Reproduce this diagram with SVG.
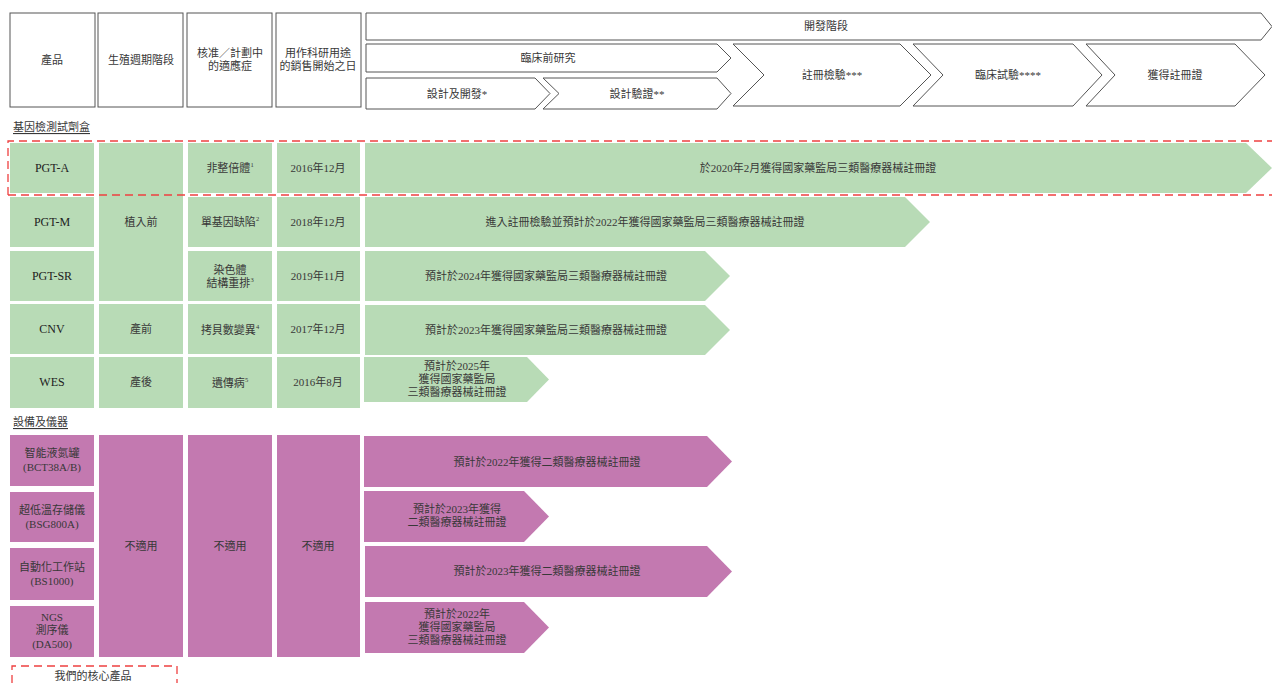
<svg xmlns="http://www.w3.org/2000/svg" width="1272" height="683" viewBox="0 0 1272 683">
<style>
text{font-family:"Liberation Serif","Noto Sans CJK TC",serif;font-size:11px;fill:#383838;text-anchor:middle;dominant-baseline:central}
.lat{font-size:12px;fill:#222}
.hdr{fill:#fff;stroke:#555;stroke-width:1}
.g{fill:#b8dbb6}
.p{fill:#c379b0}
.sec{text-anchor:start;text-decoration:underline}
.dash{fill:none;stroke:#ee4040;stroke-width:1.3;stroke-dasharray:8,5}
.sup{font-size:6.5px}
</style>
<rect width="1272" height="683" fill="#fff"/>
<g id="header">
<g id="h-product"><rect class="hdr" x="10" y="13" width="85" height="94"/><text x="52" y="60">產品</text></g>
<g id="h-stage"><rect class="hdr" x="98" y="13" width="85" height="94"/><text x="141" y="60">生殖週期階段</text></g>
<g id="h-indication"><rect class="hdr" x="187" y="13" width="85" height="94"/><text x="230" y="53">核准／計劃中</text><text x="230" y="66">的適應症</text></g>
<g id="h-date"><rect class="hdr" x="276" y="13" width="85" height="94"/><text x="318" y="53">用作科研用途</text><text x="318" y="66">的銷售開始之日</text></g>
<g id="h-dev"><polygon class="hdr" points="366,13 1261,13 1272,26.5 1261,40 366,40"/><text x="826" y="26">開發階段</text></g>
<g id="h-preclinical"><polygon class="hdr" points="366,44 717,44 731,58 717,72 366,72"/><text x="548" y="58">臨床前研究</text></g>
<g id="h-design"><polygon class="hdr" points="366,78 535,78 550,93.5 535,109 366,109"/><text x="457" y="94">設計及開發*</text></g>
<g id="h-verify"><polygon class="hdr" points="543,78 717,78 731,93.5 717,109 543,109 559,93.5"/><text x="637" y="94">設計驗證**</text></g>
<g id="h-regtest"><polygon class="hdr" points="733,44 900,44 931,75 900,106 733,106 764,75"/><text x="832" y="75">註冊檢驗***</text></g>
<g id="h-clinical"><polygon class="hdr" points="913,44 1073,44 1102,75 1073,106 913,106 943,75"/><text x="1008" y="75">臨床試驗****</text></g>
<g id="h-cert"><polygon class="hdr" points="1086,44 1235,44 1265,75 1235,106 1086,106 1115,75"/><text x="1175" y="75">獲得註冊證</text></g>
</g>
<text class="sec" x="13" y="127">基因檢測試劑盒</text>
<g id="pgt-a">
<rect class="g" x="10" y="143" width="84" height="50"/><text class="lat" x="52" y="168">PGT-A</text>
<rect class="g" x="188" y="143" width="84" height="50"/><text x="230" y="168">非整倍體<tspan class="sup" dy="-4">1</tspan></text>
<rect class="g" x="277" y="143" width="83" height="50"/><text x="318" y="168">2016年12月</text>
<polygon class="g" points="365,143 1246,143 1272,168 1246,193 365,193"/><text x="818" y="168">於2020年2月獲得國家藥監局三類醫療器械註冊證</text>
</g>
<g id="preimplant"><rect class="g" x="99" y="143" width="84" height="158"/><text x="141" y="222">植入前</text></g>
<g id="pgt-m">
<rect class="g" x="10" y="197" width="84" height="50"/><text class="lat" x="52" y="222">PGT-M</text>
<rect class="g" x="188" y="197" width="84" height="50"/><text x="230" y="222">單基因缺陷<tspan class="sup" dy="-4">2</tspan></text>
<rect class="g" x="277" y="197" width="83" height="50"/><text x="318" y="222">2018年12月</text>
<polygon class="g" points="365,197 905,197 930,222 905,247 365,247"/><text x="645" y="222">進入註冊檢驗並預計於2022年獲得國家藥監局三類醫療器械註冊證</text>
</g>
<g id="pgt-sr">
<rect class="g" x="10" y="251" width="84" height="50"/><text class="lat" x="52" y="276">PGT-SR</text>
<rect class="g" x="188" y="251" width="84" height="50"/><text x="230" y="270">染色體</text><text x="230" y="283">結構重排<tspan class="sup" dy="-4">3</tspan></text>
<rect class="g" x="277" y="251" width="83" height="50"/><text x="318" y="276">2019年11月</text>
<polygon class="g" points="365,251 705,251 730,276 705,301 365,301"/><text x="546" y="276">預計於2024年獲得國家藥監局三類醫療器械註冊證</text>
</g>
<g id="cnv">
<rect class="g" x="10" y="304" width="84" height="50"/><text class="lat" x="52" y="329">CNV</text>
<rect class="g" x="99" y="304" width="84" height="50"/><text x="141" y="329">產前</text>
<rect class="g" x="188" y="304" width="84" height="50"/><text x="230" y="330">拷貝數變異<tspan class="sup" dy="-4">4</tspan></text>
<rect class="g" x="277" y="304" width="83" height="50"/><text x="318" y="329">2017年12月</text>
<polygon class="g" points="365,305 705,305 730,330 705,355 365,355"/><text x="546" y="330">預計於2023年獲得國家藥監局三類醫療器械註冊證</text>
</g>
<g id="wes">
<rect class="g" x="10" y="357" width="84" height="51"/><text class="lat" x="52" y="382">WES</text>
<rect class="g" x="99" y="357" width="84" height="51"/><text x="141" y="382">產後</text>
<rect class="g" x="188" y="357" width="84" height="51"/><text x="230" y="383">遺傳病<tspan class="sup" dy="-4">5</tspan></text>
<rect class="g" x="277" y="357" width="83" height="51"/><text x="318" y="382">2016年8月</text>
<polygon class="g" points="364,357 527,357 549,379.5 527,402 364,402"/><text x="457" y="366">預計於2025年</text><text x="457" y="379">獲得國家藥監局</text><text x="457" y="392">三類醫療器械註冊證</text>
</g>
<text class="sec" x="13" y="422">設備及儀器</text>
<g id="na-cols">
<rect class="p" x="99" y="435" width="84" height="222"/><text x="141" y="546">不適用</text>
<rect class="p" x="188" y="435" width="84" height="222"/><text x="230" y="546">不適用</text>
<rect class="p" x="277" y="435" width="83" height="222"/><text x="318" y="546">不適用</text>
</g>
<g id="bct38">
<rect class="p" x="10" y="435" width="84" height="51"/><text x="52" y="453">智能液氮罐</text><text x="52" y="467">(BCT38A/B)</text>
<polygon class="p" points="364,436 707,436 732,461.5 707,487 364,487"/><text x="547" y="462">預計於2022年獲得二類醫療器械註冊證</text>
</g>
<g id="bsg800">
<rect class="p" x="10" y="492" width="84" height="50"/><text x="52" y="510">超低溫存儲儀</text><text x="52" y="524">(BSG800A)</text>
<polygon class="p" points="364,491 524,491 549,516.5 524,542 364,542"/><text x="457" y="509">預計於2023年獲得</text><text x="457" y="522">二類醫療器械註冊證</text>
</g>
<g id="bs1000">
<rect class="p" x="10" y="548" width="84" height="52"/><text x="52" y="567">自動化工作站</text><text x="52" y="581">(BS1000)</text>
<polygon class="p" points="365,546 707,546 732,571.5 707,597 365,597"/><text x="547" y="571">預計於2023年獲得二類醫療器械註冊證</text>
</g>
<g id="da500">
<rect class="p" x="10" y="606" width="84" height="51"/><text x="52" y="617">NGS</text><text x="52" y="630">測序儀</text><text x="52" y="644">(DA500)</text>
<polygon class="p" points="365,602 524,602 549,627.5 524,653 365,653"/><text x="457" y="614">預計於2022年</text><text x="457" y="627">獲得國家藥監局</text><text x="457" y="640">三類醫療器械註冊證</text>
</g>
<g id="core-highlight"><path class="dash" d="M8,195 L8,141 L1272,141 M8,195 L1272,195"/></g>
<g id="legend"><path class="dash" d="M12,683 L12,666 L177,666 L177,683"/><text x="93" y="676">我們的核心產品</text></g>
</svg>
